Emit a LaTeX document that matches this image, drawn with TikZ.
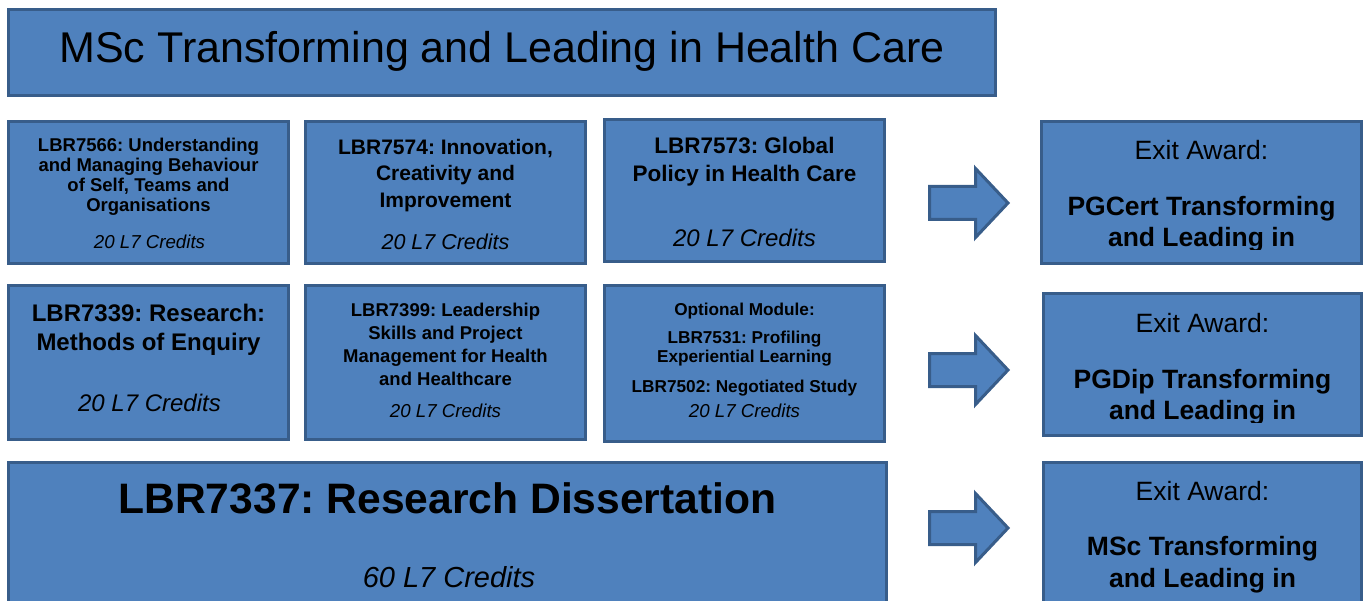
\documentclass[tikz,border=0pt]{standalone}
\usepackage{fontspec}
\setmainfont{Liberation Sans}
\usetikzlibrary{positioning}
\frenchspacing

\definecolor{boxblue}{HTML}{4F81BD}
\definecolor{boxedge}{HTML}{385D8A}
\newcommand{\fs}[1]{\fontsize{#1}{#1}\selectfont}

\tikzset{
  modbox/.style={draw=boxedge, fill=boxblue, line width=3pt, inner sep=0pt, outer sep=0pt, anchor=north west},
  blockarrow/.style={draw=boxedge, fill=boxblue, line width=3pt, line join=miter},
  txt/.style={anchor=base, inner sep=0pt},
}

\begin{document}
\begin{tikzpicture}[x=1pt, y=-1pt]
  \useasboundingbox (0,0) rectangle (1367,601);
  \clip (0,0) rectangle (1367,601);

  % boxes
  \node[modbox, minimum width=987, minimum height=86] (title) at (8.5,9.5) {};
  \node[modbox, minimum width=280, minimum height=142] (m1) at (8.5,121.5) {};
  \node[modbox, minimum width=280, minimum height=142] (m2) at (305.5,121.5) {};
  \node[modbox, minimum width=280, minimum height=142] (m3) at (604.5,119.5) {};
  \node[modbox, minimum width=320, minimum height=142] (ex1) at (1041.5,121.5) {};
  \node[modbox, minimum width=280, minimum height=154] (m4) at (8.5,285.5) {};
  \node[modbox, minimum width=280, minimum height=154] (m5) at (305.5,285.5) {};
  \node[modbox, minimum width=280, minimum height=156] (m6) at (604.5,285.5) {};
  \node[modbox, minimum width=318, minimum height=142] (ex2) at (1043.5,293.5) {};
  \node[modbox, minimum width=878, minimum height=170] (m7) at (8.5,462.5) {};
  \node[modbox, minimum width=318, minimum height=170] (ex3) at (1043.5,462.5) {};

  % arrows
  \foreach \c in {203,370,528}
    \draw[blockarrow] (929.5,\c-16.5) -- (975.5,\c-16.5) -- (975.5,\c-34.5) -- (1008,\c)
      -- (975.5,\c+34.5) -- (975.5,\c+16.5) -- (929.5,\c+16.5) -- cycle;

  % title
  \node[txt] (titletxt) at (502,63) {\fs{43}MSc Transforming and Leading in Health Care};

  % row 1
  \node[txt] (m1a) at (148.5,152) {\fs{18.5}\bfseries LBR7566: Understanding};
  \node[txt] (m1b) at (148.5,172) {\fs{18.5}\bfseries and Managing Behaviour};
  \node[txt] (m1c) at (148.5,192) {\fs{18.5}\bfseries of Self, Teams and};
  \node[txt] (m1d) at (148.5,212) {\fs{18.5}\bfseries Organisations};
  \node[txt] (m1e) at (149.5,249) {\fs{18.7}\itshape 20 L7 Credits};

  \node[txt] (m2a) at (445.5,154.5) {\fs{21}\bfseries LBR7574: Innovation,};
  \node[txt] (m2b) at (445.5,181) {\fs{21}\bfseries Creativity and};
  \node[txt] (m2c) at (445.5,207.5) {\fs{21}\bfseries Improvement};
  \node[txt] (m2e) at (445.5,249.5) {\fs{21.5}\itshape 20 L7 Credits};

  \node[txt] (m3a) at (744.5,154) {\fs{22.5}\bfseries LBR7573: Global};
  \node[txt] (m3b) at (744.5,182) {\fs{22.5}\bfseries Policy in Health Care};
  \node[txt] (m3e) at (744.5,246.5) {\fs{24}\itshape 20 L7 Credits};

  % row 2
  \node[txt] (m4a) at (148.5,321.5) {\fs{24}\bfseries LBR7339: Research:};
  \node[txt] (m4b) at (148.5,350.5) {\fs{24}\bfseries Methods of Enquiry};
  \node[txt] (m4e) at (149.5,411.5) {\fs{24}\itshape 20 L7 Credits};

  \node[txt] (m5a) at (445.5,316.6) {\fs{18.5}\bfseries LBR7399: Leadership};
  \node[txt] (m5b) at (445.5,339.6) {\fs{18.5}\bfseries Skills and Project};
  \node[txt] (m5c) at (445.5,362.6) {\fs{18.5}\bfseries Management for Health};
  \node[txt] (m5d) at (445.5,385.6) {\fs{18.5}\bfseries and Healthcare};
  \node[txt] (m5e) at (445.5,417.7) {\fs{18.7}\itshape 20 L7 Credits};

  \node[txt] (m6a) at (744.5,316) {\fs{17.2}\bfseries Optional Module:};
  \node[txt] (m6b) at (744.5,343) {\fs{17.2}\bfseries LBR7531: Profiling};
  \node[txt] (m6c) at (744.5,362) {\fs{17.2}\bfseries Experiential Learning};
  \node[txt] (m6d) at (744.5,392) {\fs{17.2}\bfseries LBR7502: Negotiated Study};
  \node[txt] (m6e) at (744.5,417) {\fs{18.7}\itshape 20 L7 Credits};

  % row 3
  \node[txt] (m7a) at (447.5,513) {\fs{42.6}\bfseries LBR7337: Research Dissertation};
  \node[txt] (m7e) at (449,587.5) {\fs{29}\itshape 60 L7 Credits};

  % exit awards
  \begin{scope}
    \clip (1041.5,121.5) rectangle (1361.5,250);
    \node[txt] (ex1a) at (1201.5,160) {\fs{26.5}Exit Award:};
    \node[txt] (ex1b) at (1201.5,216) {\fs{26.5}\bfseries PGCert Transforming};
    \node[txt] (ex1c) at (1201.5,247) {\fs{26.5}\bfseries and Leading in};
  \end{scope}
  \begin{scope}
    \clip (1043.5,293.5) rectangle (1361.5,422);
    \node[txt] (ex2a) at (1202.5,332) {\fs{26.5}Exit Award:};
    \node[txt] (ex2b) at (1202.5,388) {\fs{26.5}\bfseries PGDip Transforming};
    \node[txt] (ex2c) at (1202.5,419) {\fs{26.5}\bfseries and Leading in};
  \end{scope}
  \begin{scope}
    \clip (1043.5,462.5) rectangle (1361.5,592);
    \node[txt] (ex3a) at (1202.5,500) {\fs{26.5}Exit Award:};
    \node[txt] (ex3b) at (1202.5,555) {\fs{26.5}\bfseries MSc Transforming};
    \node[txt] (ex3c) at (1202.5,587) {\fs{26.5}\bfseries and Leading in};
  \end{scope}
\end{tikzpicture}
\end{document}
